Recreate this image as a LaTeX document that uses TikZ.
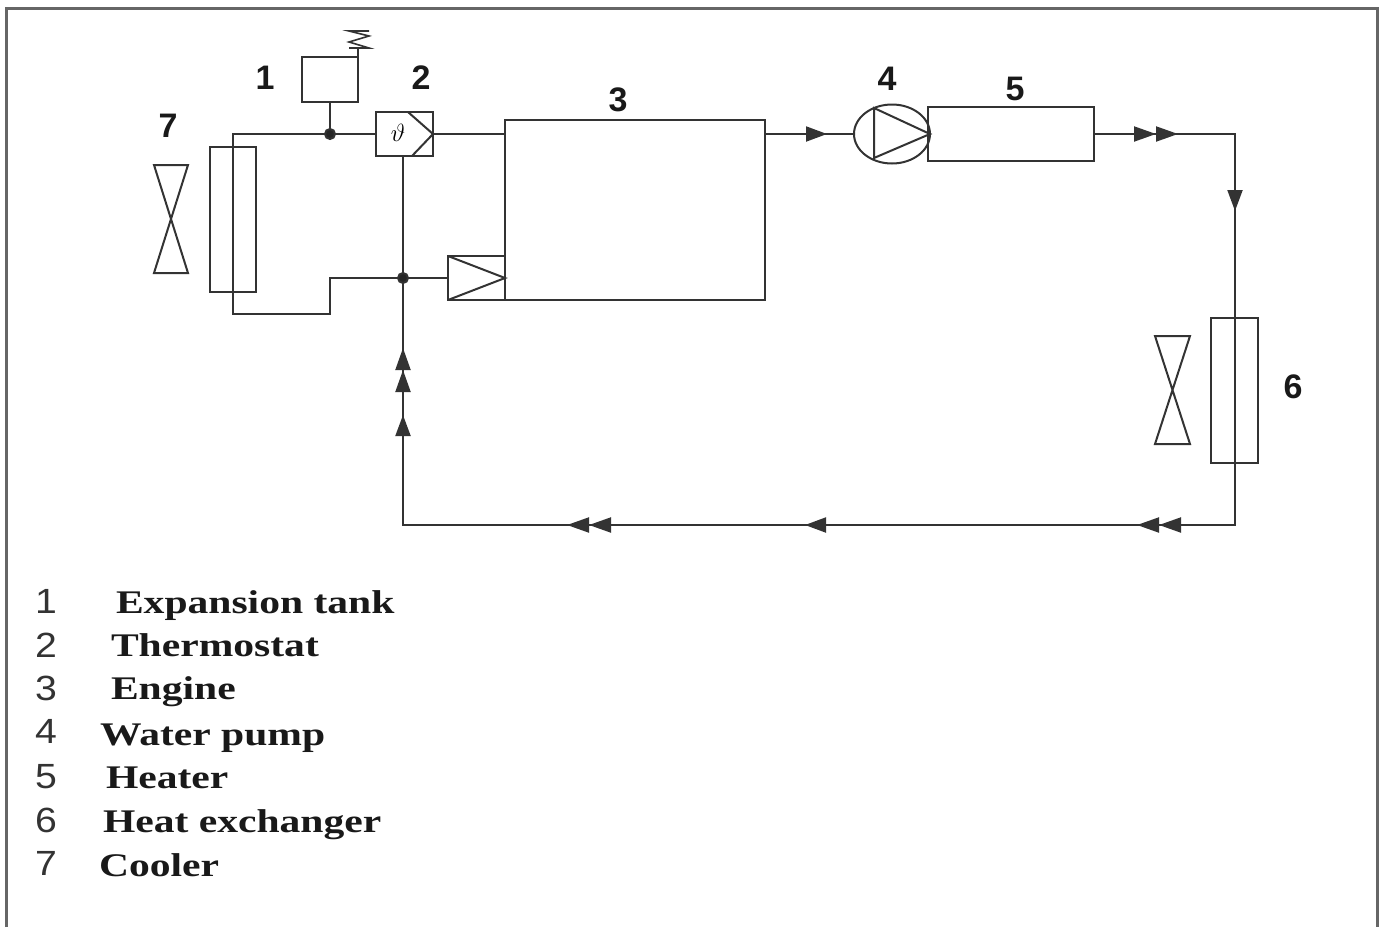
\documentclass[tikz,border=0pt]{standalone}
\usepackage{fontspec}
\usepackage{tikz}
\usetikzlibrary{positioning,arrows.meta,shapes.geometric}
\setmainfont{Liberation Sans}
\newfontfamily\legendfont[FakeStretch=1.26]{Liberation Serif}
\newfontfamily\numberfont[FakeStretch=1.12]{Liberation Sans}

\begin{document}
\begin{tikzpicture}[x=1pt,y=-1pt,line width=2pt,draw=black!80,
    box/.style={draw,rectangle,inner sep=0pt,outer sep=0pt},
    dot/.style={draw,circle,fill=black!85,inner sep=0pt,outer sep=0pt,minimum size=10pt},
    oneflow/.style={-{Triangle[length=21pt,width=15pt]}},
    twoflow/.style={-{Triangle[length=22pt,width=15pt]Triangle[length=22pt,width=15pt]}},
    partno/.style={inner sep=0pt,font=\fontsize{34}{36}\selectfont\bfseries,text=black!90},
    legno/.style={anchor=base,inner sep=0pt,font=\numberfont\fontsize{35}{36}\selectfont,text=black!80},
    legtext/.style={anchor=base west,inner sep=0pt,font=\legendfont\fontsize{33}{36}\selectfont\bfseries,text=black!90}]

  \useasboundingbox (0,0) rectangle (1382,927);
  \draw[line width=3pt,draw=black!60] (6,927) -- (6,8) -- (1377,8) -- (1377,927);

  \node[box,minimum width=56pt,minimum height=45pt]   (tank)    at (330,79.5)   {};
  \node[box,minimum width=57pt,minimum height=44pt]   (therm)   at (404.5,134)  {};
  \node[inner sep=0pt,font=\fontsize{24}{24}\selectfont] (theta) at (398,133) {$\vartheta$};
  \node[box,minimum width=260pt,minimum height=180pt] (engine)  at (635,210)    {};
  \node[box,minimum width=57pt,minimum height=44pt]   (inlet)   at (476.5,278)  {};
  \node[box,minimum width=46pt,minimum height=145pt]  (cooler)  at (233,219.5)  {};
  \node[box,minimum width=47pt,minimum height=145pt]  (exch)    at (1234.5,390.5) {};
  \node[box,minimum width=166pt,minimum height=54pt]  (heater)  at (1011,134)   {};
  \node[draw,ellipse,inner sep=0pt,outer sep=0pt,minimum width=76pt,minimum height=59pt] (pump) at (892,134) {};

  \node[dot] (j1) at (330,134) {};
  \node[dot] (j2) at (403,278) {};

  \coordinate (c1) at (233,134);
  \coordinate (c2) at (233,314);
  \coordinate (c3) at (330,314);
  \coordinate (c4) at (330,278);
  \coordinate (c5) at (1235,134);
  \coordinate (c6) at (1235,525);
  \coordinate (c7) at (403,525);

  % connectors
  \draw (therm.west) -- (j1) -- (c1) -- (c2) -- (c3) -- (c4) -- (j2) -- (inlet.west);
  \draw (tank.south -| j1) -- (j1);
  \draw (j2 |- therm.south) -- (j2);
  \draw (therm.east) -- (engine.west |- therm.east);
  \draw (engine.east |- pump.west) -- (pump.west);
  \draw (heater.east) -- (c5) -- (c6) -- (c7) -- (j2);

  % flow tips
  \draw[oneflow] (engine.east |- pump.west) -- (827,134);
  \draw[twoflow] (heater.east) -- (1178,134);
  \draw[oneflow] (c5) -- (1235,211);
  \draw[twoflow] (c6) -- (1137,525);
  \draw[oneflow] (c6) -- (805,525);
  \draw[twoflow] (c6) -- (567,525);
  \draw[oneflow] (c7) -- (403,415);
  \draw[twoflow] (c7) -- (403,348);

  % symbols inside the parts
  \draw (inlet.north west) -- (inlet.east) -- (inlet.south west);
  \draw ([xshift=-25pt]therm.north east) -- (therm.east) -- ([xshift=-21pt]therm.south east);
  \draw (874,108) -- (874,158) -- (pump.east) -- cycle;
  \draw (154,165) -- (188,165) -- (154,273) -- (188,273) -- cycle;
  \draw (1155,336) -- (1190,336) -- (1155,444) -- (1190,444) -- cycle;
  \draw[line width=1.6pt] (tank.north east) -- (358,48) (349,48) -- (369,48) -- (349,42) -- (369,36) -- (349,31) -- (369,31);

  \node[partno] (n1) at (265,78)   {1};
  \node[partno] (n2) at (421,78)   {2};
  \node[partno] (n3) at (618,100)  {3};
  \node[partno] (n4) at (887,79)   {4};
  \node[partno] (n5) at (1015,89)  {5};
  \node[partno] (n6) at (1293,387) {6};
  \node[partno] (n7) at (168,126)  {7};

  \node[legno] (l1) at (46,613) {1};
  \node[legno] (l2) at (46,657) {2};
  \node[legno] (l3) at (46,700) {3};
  \node[legno] (l4) at (46,743) {4};
  \node[legno] (l5) at (46,788) {5};
  \node[legno] (l6) at (46,832) {6};
  \node[legno] (l7) at (46,875) {7};

  \node[legtext] (t1) at (115,613) {Expansion tank};
  \node[legtext] (t2) at (110,656) {Thermostat};
  \node[legtext] (t3) at (110,699) {Engine};
  \node[legtext] (t4) at (99,745)  {Water pump};
  \node[legtext] (t5) at (105,788) {Heater};
  \node[legtext] (t6) at (102,832) {Heat exchanger};
  \node[legtext] (t7) at (98,876)  {Cooler};
\end{tikzpicture}
\end{document}
